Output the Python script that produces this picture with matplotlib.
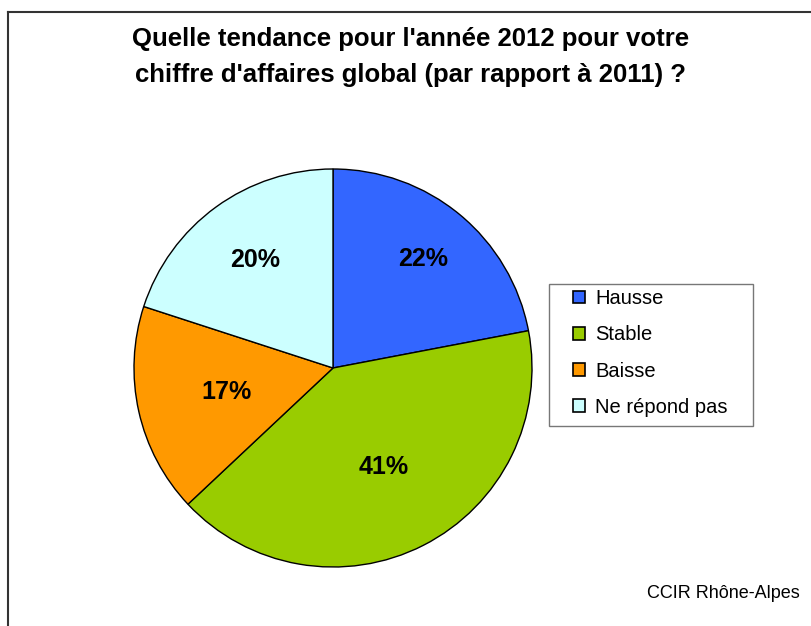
import matplotlib
matplotlib.use("Agg")
import matplotlib.pyplot as plt
from matplotlib.patches import Patch, Rectangle
from matplotlib.lines import Line2D

# Data
labels = ["Hausse", "Stable", "Baisse", "Ne répond pas"]
values = [22, 41, 17, 20]
colors = ["#3366FF", "#99CC00", "#FF9900", "#CCFFFF"]
title = "Quelle tendance pour l'année 2012 pour votre\nchiffre d'affaires global (par rapport à 2011) ?"
source = "CCIR Rhône-Alpes"

# radial position of each percentage label (fraction of radius)
label_dist = [0.71, 0.56, 0.55, 0.67]

plt.rcParams["font.family"] = ["Liberation Sans", "DejaVu Sans"]

W, H = 811, 626
fig = plt.figure(figsize=(W / 100, H / 100), dpi=100)

# pie axes: centre (333, 368) px, radius 199 px
cx, cy, r = 333, 368, 199
ax = fig.add_axes([(cx - r) / W, (H - cy - r) / H, 2 * r / W, 2 * r / H])
wedges, texts, autotexts = ax.pie(
    values,
    colors=colors,
    startangle=90,
    counterclock=False,
    radius=1,
    autopct="%.0f%%",
    pctdistance=1.0,
    wedgeprops={"edgecolor": "black", "linewidth": 1},
    textprops={"fontsize": 18, "fontweight": "bold", "color": "black"},
)
for t, d in zip(autotexts, label_dist):
    x, y = t.get_position()
    t.set_position((x * d, y * d))
ax.set_xlim(-1.0, 1.0)
ax.set_ylim(-1.0, 1.0)
ax.set_aspect("equal")
ax.axis("off")

# frame border (left and top)
fig.add_artist(Line2D([8 / W, 8 / W], [0, 1 - 12 / H], transform=fig.transFigure, color="#333333", lw=1.5))
fig.add_artist(Line2D([8 / W, 1], [1 - 12 / H, 1 - 12 / H], transform=fig.transFigure, color="#333333", lw=1.5))

fig.text(411 / W, 1 - 57 / H, title, ha="center", va="center", fontsize=18.5,
         fontweight="bold", linespacing=1.65)

# legend box
fig.add_artist(Rectangle((549 / W, 1 - 426 / H), 204 / W, 142 / H, transform=fig.transFigure,
                         facecolor="none", edgecolor="#777777", lw=1))
handles = [Patch(facecolor=c, edgecolor="black", linewidth=1.2) for c in colors]
leg = fig.legend(
    handles, labels,
    loc="upper left",
    bbox_to_anchor=(573 / W, 1 - 289 / H),
    fontsize=14.5,
    frameon=False,
    handlelength=0.6,
    handleheight=0.6,
    handletextpad=0.5,
    labelspacing=0.86,
    borderpad=0,
    borderaxespad=0,
)

fig.text(800 / W, 1 - 593 / H, source, ha="right", va="center", fontsize=13)

fig.savefig("out.png", dpi=100)
